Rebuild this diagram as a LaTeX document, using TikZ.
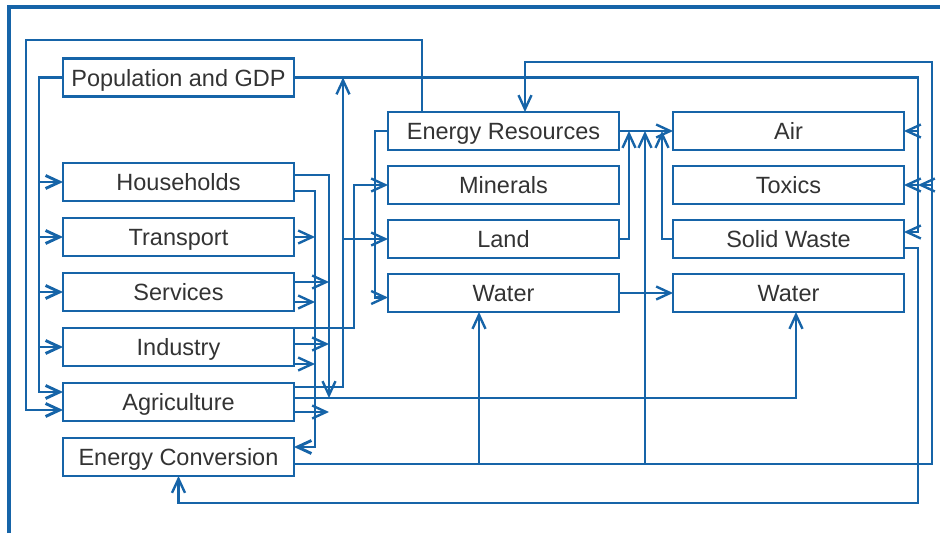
\documentclass[tikz,border=0pt]{standalone}
\usepackage{fontspec}
\setmainfont{Liberation Sans}
\usetikzlibrary{arrows.meta,positioning,calc}
\definecolor{flowblue}{RGB}{22,100,168}

\begin{document}
\begin{tikzpicture}[
        x=1pt, y=-1pt,
        font=\fontsize{23.5}{28}\selectfont,
        >={Straight Barb[length=14pt,width=13pt]},
        node distance=17pt,
        sector/.style={rectangle,draw=flowblue,line width=2.1pt,minimum width=231pt,minimum height=38pt,inner sep=0pt,outer sep=0pt,text height=17pt,text depth=0pt,text=black!80},
        flow/.style={draw=flowblue,line width=2.4pt},
        trunk/.style={draw=flowblue,line width=2.9pt}
    ]
        \useasboundingbox (0,0) rectangle (940,533);
        \draw[trunk,line width=3.6pt] (9,533) |- (940,7);

        \node[sector] (pop) at (178.5,77.5) {Population and GDP};
        \node[sector,below=66.5pt of pop] (hh) {Households};
        \node[sector,below=of hh] (tr) {Transport};
        \node[sector,below=of tr] (sv) {Services};
        \node[sector,below=of sv] (ind) {Industry};
        \node[sector,below=of ind] (agr) {Agriculture};
        \node[sector,below=of agr] (ec) {Energy Conversion};

        \node[sector] (er) at (503.5,131) {Energy Resources};
        \node[sector,below=16pt of er] (mn) {Minerals};
        \node[sector,below=16pt of mn] (ld) {Land};
        \node[sector,below=16pt of ld] (wm) {Water};

        \node[sector,right=54pt of er] (air) {Air};
        \node[sector,below=16pt of air] (tx) {Toxics};
        \node[sector,below=16pt of tx] (sw) {Solid Waste};
        \node[sector,below=16pt of sw] (wr) {Water};

        \coordinate (loop) at (26,40);
        \coordinate (popl) at (39,77.5);
        \coordinate (popr) at (918,77.5);
        \coordinate (hhup) at (329,175);
        \coordinate (hhlo) at (315,191);
        \coordinate (agup) at (343,387);
        \coordinate (ect) at (932,62);
        \coordinate (swr) at (918,503);
        \coordinate (agmid) at ([yshift=4pt]agr.east);
        \coordinate (ecout) at ([yshift=-7pt]ec.east);
        \coordinate (wmin) at ([xshift=-24.5pt]wm.south);
        \coordinate (erin) at ([xshift=26pt]er.east);

        \draw[trunk,->] ([xshift=-81.5pt]er.north) |- (loop) |- ([yshift=-8pt]agr.west);
        \draw[trunk,->] (pop.west) -- (popl) |- ([yshift=10pt]agr.west);
        \foreach \s in {hh,tr,sv,ind}
            \draw[trunk,->] (\s.west -| popl) -- (\s.west);

        \draw[flow,->] (pop.east) -- (popr) |- ([yshift=7pt]sw.east);
        \foreach \s in {air,tx}
            \draw[flow,->] (\s.east -| popr) -- (\s.east);

        \draw[flow,->] ([yshift=15pt]agr.east) -- (agup) -- (agup |- pop.east);
        \draw[flow,->] (ld.west -| agup) -- (ld.west);
        \draw[flow,->] ([yshift=7pt]hh.east) -- (hhup) -- (hhup |- agmid);
        \draw[flow,->] (agmid) -| ([xshift=7.5pt]wr.south);
        \draw[trunk,->] ([yshift=-9pt]hh.east) -- (hhlo) |- ([yshift=10pt]ec.east);
        \foreach \s/\dy/\dx in {tr/0/21,sv/-10/21,ind/-17/21,sv/10/35,ind/3/35,agr/-10/35}
            \draw[flow,->] ([yshift=\dy pt]\s.east) -- ([xshift=\dx pt,yshift=\dy pt]\s.east);

        \draw[flow,->] (ind.north east) -| ([xshift=-34pt]mn.west) -- (mn.west);
        \draw[flow,->] (er.west) -- ([xshift=-13pt]er.west) |- ([yshift=-4.5pt]wm.west);
        \draw[flow,->] (er.east) -- (air.west);
        \draw[flow,->] (wm.east) -- (wr.west);
        \draw[flow,->] (ld.east) -| ([xshift=10pt]er.east);
        \draw[flow,->] (sw.west) -| ([xshift=-11pt]air.west);

        \draw[flow,->] (ecout) -| (ect) -| ([xshift=21.5pt]er.north);
        \draw[flow,->] (wmin |- ecout) -- (wmin);
        \draw[flow,->] (erin |- ecout) -- (erin);
        \draw[flow,->] (tx.east -| ect) -- (tx.east -| popr);
        \draw[flow,->] ([yshift=-9pt]sw.east) -| (swr) -| (ec.south);
    \end{tikzpicture}
\end{document}
